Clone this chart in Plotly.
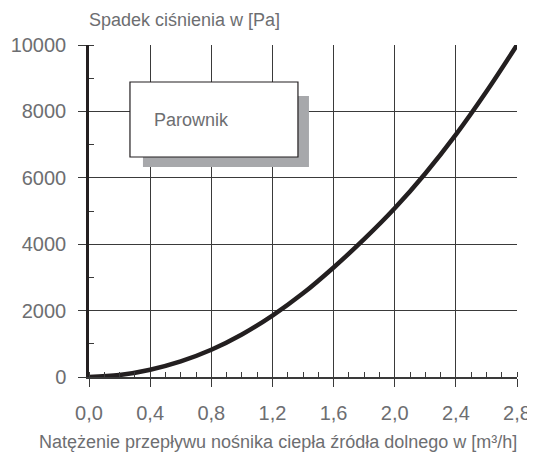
import plotly.graph_objects as go

# Data
flow = [0.0, 0.2, 0.4, 0.6, 0.8, 1.0, 1.2, 1.4, 1.6, 1.8, 2.0, 2.2, 2.4, 2.6, 2.8]
pressure_drop = [0, 60, 220, 470, 820, 1280, 1850, 2520, 3300, 4150, 5080, 6130, 7300, 8600, 10000]
x_ticks = [0.0, 0.4, 0.8, 1.2, 1.6, 2.0, 2.4, 2.8]
x_tick_labels = ["0,0", "0,4", "0,8", "1,2", "1,6", "2,0", "2,4", "2,8"]
y_ticks = [0, 2000, 4000, 6000, 8000, 10000]
y_tick_labels = ["0", "2000", "4000", "6000", "8000", "10000"]
series_name = "Parownik"

FONT = "Liberation Sans"
TXT = "#6d6e71"
GRID = "#3a3a3a"

fig = go.Figure()
fig.add_trace(go.Scatter(
    x=flow, y=pressure_drop, mode="lines",
    line=dict(color="#231f20", width=4.5, shape="spline", smoothing=1.0),
    showlegend=False, hoverinfo="skip", cliponaxis=False,
))

# page body has an 8px default margin, so the figure is sized to fit the window
fig.update_layout(
    width=527, height=448,
    margin=dict(l=81, r=18, t=37, b=79),
    paper_bgcolor="white", plot_bgcolor="white",
    font=dict(family=FONT, color=TXT),
    xaxis=dict(
        range=[0, 2.8], tickvals=x_ticks, ticktext=x_tick_labels,
        showgrid=True, gridcolor=GRID, gridwidth=1,
        ticks="outside", ticklen=8, tickcolor=GRID, tickwidth=1,
        tickfont=dict(size=20, color=TXT), ticklabelstandoff=9,
        showline=True, linecolor="#3a3a3a", linewidth=2,
        zeroline=False, automargin=False,
        minor=dict(ticks="inside", ticklen=5, dtick=0.1, tickcolor=GRID, tickwidth=1, showgrid=False),
        fixedrange=True,
    ),
    yaxis=dict(
        range=[0, 10000], tickvals=y_ticks, ticktext=y_tick_labels,
        showgrid=True, gridcolor=GRID, gridwidth=1,
        ticks="outside", ticklen=8, tickcolor=GRID, tickwidth=1,
        tickfont=dict(size=20, color=TXT), ticklabelstandoff=8,
        showline=True, linecolor="#231f20", linewidth=2.5,
        zeroline=False, automargin=False,
        minor=dict(ticks="inside", ticklen=5, dtick=1000, tickcolor=GRID, tickwidth=1, showgrid=False),
        fixedrange=True,
    ),
    shapes=[
        dict(type="rect", xref="x", yref="y", x0=0.353, x1=1.439, y0=6325, y1=8464,
             fillcolor="#a7a8ab", line=dict(width=0), layer="above"),
        dict(type="rect", xref="x", yref="y", x0=0.268, x1=1.367, y0=6627, y1=8886,
             fillcolor="white", line=dict(color="#231f20", width=1.2), layer="above"),
    ],
    annotations=[
        dict(text=series_name, xref="x", yref="y", x=0.41, y=7750, xanchor="left", yanchor="middle",
             showarrow=False, font=dict(size=18, color=TXT, family=FONT)),
        dict(text="Spadek ciśnienia w [Pa]", xref="paper", yref="paper", x=-0.005, y=1.0,
             yshift=25, xanchor="left", yanchor="middle", showarrow=False,
             font=dict(size=18, color=TXT, family=FONT)),
        dict(text="Natężenie przepływu nośnika ciepła źródła dolnego w [m³/h]", xref="paper", yref="paper",
             x=(278 - 89) / 428, y=0, yshift=-65, xanchor="center", yanchor="middle", showarrow=False,
             font=dict(size=18, color=TXT, family=FONT)),
    ],
)

fig.write_html("out.html")
